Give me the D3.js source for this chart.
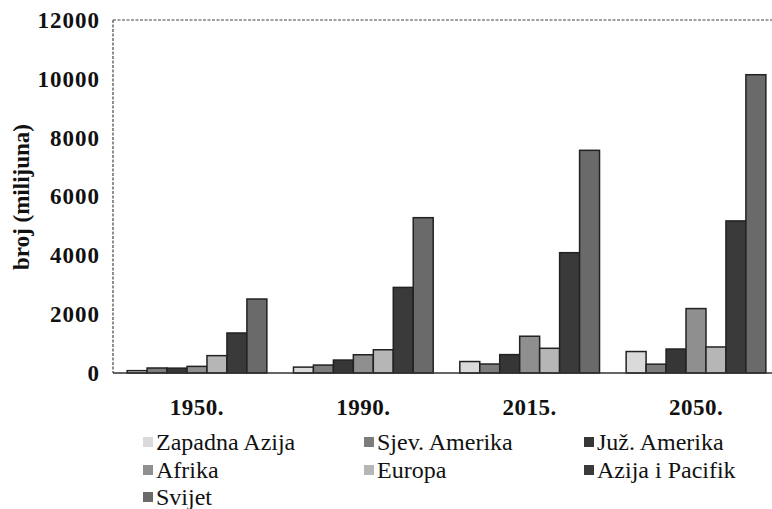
<!DOCTYPE html>
<html><head><meta charset="utf-8">
<script src="https://cdn.jsdelivr.net/npm/d3@7"></script>
<style>body{margin:0;background:#fff}svg{display:block}</style>
</head><body>
<svg id="c" width="772" height="509"></svg>
<script>
const years = ["1950.", "1990.", "2015.", "2050."];
const seriesNames = ["Zapadna Azija", "Sjev. Amerika", "Juž. Amerika", "Afrika", "Europa", "Azija i Pacifik", "Svijet"];
const zapadnaAzija = [80, 200, 390, 730];
const sjevAmerika = [170, 270, 305, 300];
const juzAmerika = [165, 440, 625, 815];
const afrika = [225, 620, 1250, 2190];
const europa = [590, 790, 840, 885];
const azijaPacifik = [1360, 2910, 4090, 5170];
const svijet = [2515, 5280, 7570, 10140];
const yTicks = [0, 2000, 4000, 6000, 8000, 10000, 12000];
const colors = ["#dadada", "#7c7c7c", "#363636", "#8f8f8f", "#b6b6b6", "#3a3a3a", "#6a6a6a"];

const seriesValues = [zapadnaAzija, sjevAmerika, juzAmerika, afrika, europa, azijaPacifik, svijet];
const svg = d3.select("#c");
const mLeft = 113, mTop = 20, mBottom = 373, mRight = 780;

const y = d3.scaleLinear().domain([0, 12000]).range([mBottom, mTop]);
const x0 = d3.scaleBand().domain(years).range([mLeft, mRight]).paddingInner(0.16).paddingOuter(0.085);
const x1 = d3.scaleBand().domain(seriesNames).range([0, x0.bandwidth()]);

const serif = "Liberation Serif, Times New Roman, serif";

// frame
svg.append("line").attr("x1", mLeft).attr("x2", mLeft).attr("y1", mTop).attr("y2", mBottom)
  .attr("stroke", "#444").attr("stroke-width", 1.2).attr("stroke-dasharray", "3,1.5");
svg.append("line").attr("x1", mLeft).attr("x2", 772).attr("y1", mTop).attr("y2", mTop)
  .attr("stroke", "#444").attr("stroke-width", 1.2).attr("stroke-dasharray", "3,1.5");

// bars
const groups = svg.append("g").selectAll("g").data(years).join("g")
  .attr("transform", d => `translate(${x0(d)},0)`);
groups.selectAll("rect")
  .data((yr, i) => seriesNames.map((s, k) => ({ s, v: seriesValues[k][i], k })))
  .join("rect")
  .attr("x", d => x1(d.s))
  .attr("width", x1.bandwidth())
  .attr("y", d => y(d.v))
  .attr("height", d => y(0) - y(d.v))
  .attr("fill", d => colors[d.k])
  .attr("stroke", "#222")
  .attr("stroke-width", 1.5);

// baseline
svg.append("line").attr("x1", mLeft).attr("x2", 772).attr("y1", mBottom).attr("y2", mBottom)
  .attr("stroke", "#333").attr("stroke-width", 1.4);

// y axis labels
const yAxis = d3.axisLeft(y).tickValues(yTicks).tickFormat(d3.format("d")).tickSize(0).tickPadding(13);
const ya = svg.append("g").attr("transform", `translate(${mLeft},0)`).call(yAxis)
  .attr("font-family", serif).attr("font-size", 23);
ya.select(".domain").remove();
ya.selectAll("text").style("font-family", serif).attr("font-weight", "bold")
  .attr("font-size", 23).attr("letter-spacing", 1).attr("fill", "#111");

// x axis labels
const xAxis = d3.axisBottom(x0).tickSize(0).tickPadding(26);
const xa = svg.append("g").attr("transform", `translate(0,${mBottom})`).call(xAxis)
  .attr("font-family", serif).attr("font-size", 23);
xa.select(".domain").remove();
xa.selectAll("text").style("font-family", serif).attr("font-weight", "bold")
  .attr("font-size", 23).attr("letter-spacing", 0.5).attr("fill", "#111");

// y title
svg.append("text").attr("transform", "translate(29,197) rotate(-90)")
  .attr("text-anchor", "middle").style("font-family", serif).attr("font-weight", "bold")
  .attr("font-size", 23).attr("fill", "#111").text("broj (milijuna)");

// legend
const legCols = [143, 364, 584];
const legRows = [442, 470, 497];
const leg = svg.append("g").selectAll("g").data(seriesNames).join("g")
  .attr("transform", (d, i) => `translate(${legCols[i % 3]},${legRows[Math.floor(i / 3)]})`);
leg.append("rect").attr("x", 0).attr("y", -5).attr("width", 10).attr("height", 10)
  .attr("fill", (d, i) => colors[i]);
leg.append("text").attr("x", 13).attr("y", 0).attr("dy", "0.35em")
  .style("font-family", serif).attr("font-size", 24).attr("fill", "#111").text(d => d);
</script>
</body></html>
